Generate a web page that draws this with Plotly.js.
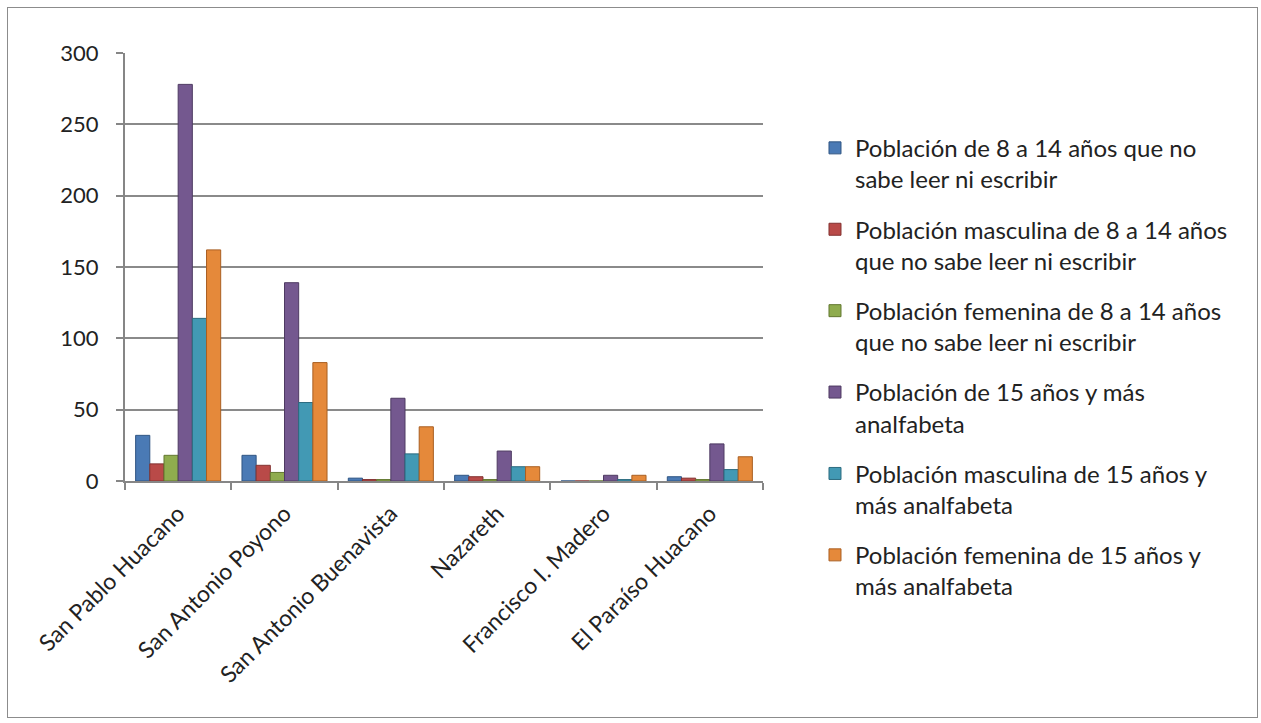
<!DOCTYPE html>
<html>
<head>
<meta charset="utf-8">
<script src="https://cdn.plot.ly/plotly-3.0.1.min.js"></script>
<style>
html,body{margin:0;padding:0;background:#fff;}
#wrap{position:relative;width:1261px;height:723px;}
#chart{width:1261px;height:723px;}
#frame{position:absolute;left:7px;top:7px;width:1249px;height:709px;border:1.5px solid #8c8c8c;pointer-events:none;}
</style>
</head>
<body>
<div id="wrap"><div id="chart"></div><div id="frame"></div></div>
<script>
const categories = ["San Pablo Huacano","San Antonio Poyono","San Antonio Buenavista","Nazareth","Francisco I. Madero","El Paraíso Huacano"];
const seriesNames = [
  "Población de 8 a 14 años que no<br>sabe leer ni escribir",
  "Población masculina de 8 a 14 años<br>que no sabe leer ni escribir",
  "Población femenina de 8 a 14 años<br>que no sabe leer ni escribir",
  "Población de 15 años y más<br>analfabeta",
  "Población masculina de 15 años y<br>más analfabeta",
  "Población femenina de 15 años y<br>más analfabeta"
];
const pob8a14 = [32, 18, 2, 4, 0, 3];
const pobMasc8a14 = [12, 11, 1, 3, 0, 2];
const pobFem8a14 = [18, 6, 1, 1, 0, 1];
const pob15ymas = [278, 139, 58, 21, 4, 26];
const pobMasc15ymas = [114, 55, 19, 10, 1, 8];
const pobFem15ymas = [162, 83, 38, 10, 4, 17];
const yTicks = [0, 50, 100, 150, 200, 250, 300];

const seriesValues = [pob8a14, pobMasc8a14, pobFem8a14, pob15ymas, pobMasc15ymas, pobFem15ymas];
const colors = ["#4a7ab5", "#b94a48", "#8fac4e", "#74588f", "#4299b4", "#e5893a"];
const lineColors = ["#2f5583", "#833230", "#62772f", "#4e3a62", "#2b6b7f", "#a95f22"];

const traces = seriesValues.map((vals, i) => ({
  type: "bar",
  x: categories,
  y: vals,
  name: seriesNames[i],
  legendgroup: "g" + i,
  marker: {color: colors[i], line: {color: lineColors[i], width: 1}},
  hoverinfo: "x+y"
}));

const FONT = "Lato, 'Open Sans', sans-serif";
const layout = {
  width: 1261,
  height: 723,
  paper_bgcolor: "#fff",
  plot_bgcolor: "#fff",
  font: {family: FONT, size: 22, color: "#222"},
  margin: {l: 125, r: 498, t: 53, b: 242},
  barmode: "group",
  bargap: 0.2,
  bargroupgap: 0,
  showlegend: true,
  legend: {
    x: 1.0815, xanchor: "left", y: 0.83, yanchor: "top",
    font: {family: FONT, size: 24, color: "#222"},
    tracegroupgap: 16,
    itemwidth: 30,
    valign: "top",
    maxheight: 650,
    bgcolor: "rgba(0,0,0,0)"
  },
  xaxis: {
    type: "category",
    tickangle: -45,
    tickson: "boundaries",
    ticks: "outside",
    ticklen: 7,
    tickcolor: "#868686",
    tickwidth: 2,
    ticklabelstandoff: 8,
    showline: true,
    linecolor: "#868686",
    linewidth: 2,
    showgrid: false,
    tickfont: {family: FONT, size: 23, color: "#222"}
  },
  yaxis: {
    range: [0, 300],
    tickvals: yTicks,
    ticktext: yTicks.map(String),
    ticks: "outside",
    ticklen: 7,
    tickcolor: "#868686",
    tickwidth: 2,
    ticklabelstandoff: 13,
    showline: true,
    linecolor: "#868686",
    linewidth: 2,
    showgrid: true,
    gridcolor: "#8a8a8a",
    gridwidth: 2,
    zeroline: false,
    tickfont: {family: FONT, size: 22, color: "#222"}
  }
};

Plotly.newPlot("chart", traces, layout, {displayModeBar: false, staticPlot: true});
</script>
</body>
</html>
